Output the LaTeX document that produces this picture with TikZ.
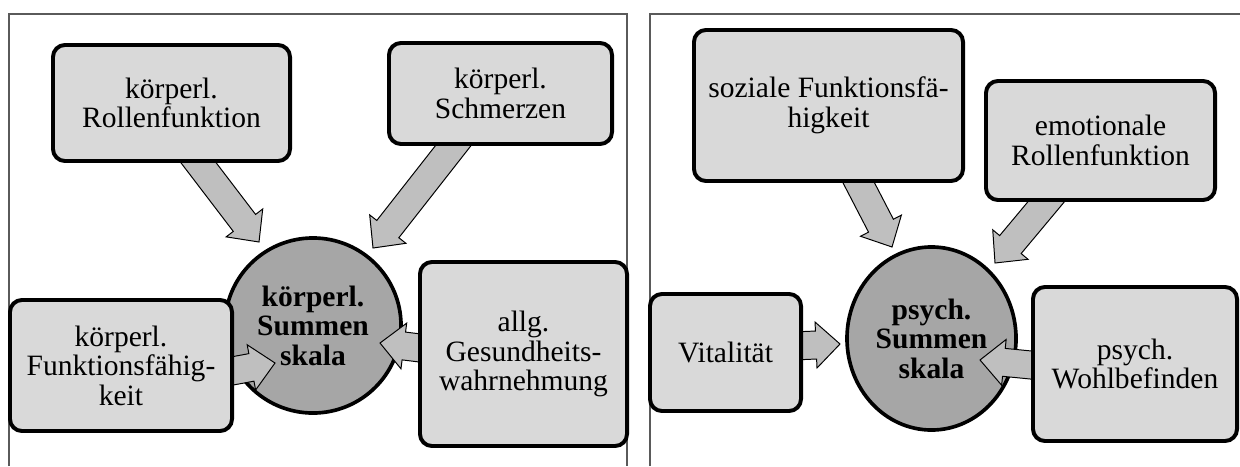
\documentclass[tikz,border=0pt]{standalone}
\usepackage{fontspec}
\setmainfont{Liberation Serif}
\usetikzlibrary{shapes.geometric,calc}
\definecolor{kastengrau}{RGB}{217,217,217}
\definecolor{pfeilgrau}{RGB}{191,191,191}
\definecolor{kreisgrau}{RGB}{166,166,166}
\definecolor{rahmengrau}{RGB}{90,90,90}
\pgfdeclarelayer{hinten}
\pgfdeclarelayer{vorne}
\pgfsetlayers{hinten,main,vorne}
\newcommand{\blockpfeil}[2]{%
  \coordinate (hb) at ($(#2)!0.6cm!(#1)$);
  \draw[pfeil] ($(#1)!0.35cm!90:(#2)$) -- ($(hb)!0.35cm!90:(#2)$) -- ($(hb)!0.575cm!90:(#2)$) -- (#2)
    -- ($(hb)!0.575cm!-90:(#2)$) -- ($(hb)!0.35cm!-90:(#2)$) -- ($(#1)!0.35cm!-90:(#2)$) -- cycle;}
\begin{document}
\begin{tikzpicture}[x=0.025cm,y=-0.025cm,
    kasten/.style={draw, line width=2.8pt, rounded corners=0.3cm, fill=kastengrau, align=center, inner sep=0pt, font=\fontsize{21}{21}\selectfont},
    kreis/.style={ellipse, draw, line width=2.6pt, fill=kreisgrau, align=center, inner sep=0pt, font=\fontsize{21}{21}\selectfont\bfseries},
    pfeil/.style={draw, line width=0.7pt, fill=pfeilgrau, line join=miter},
    rahmen/.style={draw=rahmengrau, line width=0.9pt}]
      \useasboundingbox (0,0) rectangle (1240,466);
      \begin{pgfonlayer}{hinten}
      \draw[rahmen] (9,466) -- (9,14) -- (627,14) -- (627,466);
      \draw[rahmen] (650,466) -- (650,14) -- (1240,14);
      \node[kreis, minimum width=4.4cm, minimum height=4.375cm] (ks) at (313,325.5) {körperl.\\Summen\\skala};
      \node[kreis, minimum width=4.225cm, minimum height=4.575cm] (ps) at (931.5,338.5) {psych.\\Summen\\skala};
      \end{pgfonlayer}
      \begin{pgfonlayer}{vorne}
      \node[kasten, minimum width=5.925cm, minimum height=2.9cm] (rolle) at (171.5,103) {körperl.\\Rollenfunktion};
      \node[kasten, minimum width=5.575cm, minimum height=2.525cm] (schmerz) at (500.5,93.5) {körperl.\\Schmerzen};
      \node[kasten, minimum width=5.55cm, minimum height=3.275cm] (funkt) at (121,365.5) {körperl.\\Funktionsfähig-\\keit};
      \node[kasten, minimum width=5.175cm, minimum height=4.6cm] (allg) at (523.5,354) {allg.\\Gesundheits-\\wahrnehmung};
      \node[kasten, minimum width=6.725cm, minimum height=3.775cm] (sozial) at (828.5,105.5) {soziale Funktionsfä-\\higkeit};
      \node[kasten, minimum width=5.725cm, minimum height=2.975cm] (emo) at (1100.5,140.5) {emotionale\\Rollenfunktion};
      \node[kasten, minimum width=3.775cm, minimum height=2.925cm] (vital) at (725.5,352.5) {Vitalität};
      \node[kasten, minimum width=5.1cm, minimum height=3.85cm] (wohl) at (1135,364) {psych.\\Wohlbefinden};
      \end{pgfonlayer}
      \coordinate (a1) at ($(rolle.south)+(15,-16)$);
      \coordinate (t1) at ($(ks.center)+(-54,-83.5)$);
      \coordinate (a2) at ($(schmerz.south)+(-35,-16)$);
      \coordinate (t2) at ($(ks.center)+(60,-77.5)$);
      \coordinate (a3) at ($(funkt.east)+(-10,7)$);
      \coordinate (t3) at ($(ks.center)+(-38,37.5)$);
      \coordinate (a4) at ($(allg.west)+(10,-5)$);
      \coordinate (t4) at ($(ks.center)+(67,17.5)$);
      \coordinate (b1) at ($(sozial.south)+(21,-18)$);
      \coordinate (s1) at ($(ps.center)+(-39.5,-91.5)$);
      \coordinate (b2) at ($(emo.south)+(-42,-15)$);
      \coordinate (s2) at ($(ps.center)+(63.5,-75.5)$);
      \coordinate (b3) at ($(vital.east)+(-10,-6.5)$);
      \coordinate (s3) at ($(ps.center)+(-91.5,5.5)$);
      \coordinate (b4) at ($(wohl.west)+(10,2)$);
      \coordinate (s4) at ($(ps.center)+(48.5,21.5)$);
      \blockpfeil{a1}{t1}
      \blockpfeil{a2}{t2}
      \blockpfeil{a3}{t3}
      \blockpfeil{a4}{t4}
      \blockpfeil{b1}{s1}
      \blockpfeil{b2}{s2}
      \blockpfeil{b3}{s3}
      \blockpfeil{b4}{s4}
\end{tikzpicture}
\end{document}
